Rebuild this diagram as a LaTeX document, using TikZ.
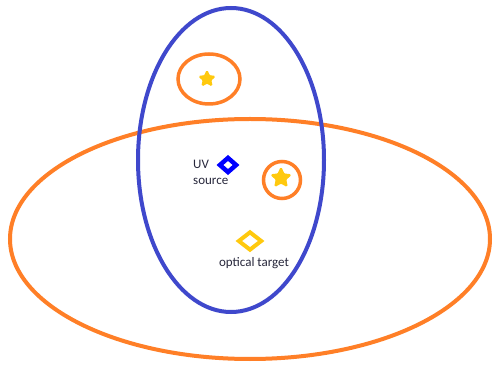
\documentclass[tikz,border=0pt]{standalone}
\usepackage{fontspec}
\setmainfont{Carlito}
\usetikzlibrary{shapes.geometric}
\definecolor{porange}{RGB}{255,127,39}
\definecolor{pblue}{RGB}{63,72,204}
\definecolor{pgold}{RGB}{255,201,14}
\definecolor{dblue}{RGB}{0,0,255}
\definecolor{ptext}{RGB}{40,40,60}
\tikzset{
  ring/.style={draw=porange, line width=4pt},
  smallring/.style={draw=porange, line width=3.5pt},
  starmark/.style={star, star points=5, star point ratio=2.1, fill=pgold, draw=pgold, line width=1.5pt, rounded corners=1pt, minimum size=15pt, inner sep=0pt},
  diamondmark/.style={diamond, draw=#1, line width=4pt, fill=white, inner sep=0pt},
  lbl/.style={font=\fontsize{13}{16}\selectfont, text=ptext, inner sep=0pt}
}
\begin{document}
\begin{tikzpicture}[x=1pt,y=-1pt]
\useasboundingbox (0,0) rectangle (493,374);
\fill[white] (0,0) rectangle (493,374);
% big orange ellipse
\draw[ring] (250,239) ellipse [x radius=240, y radius=120];
% blue ellipse
\draw[draw=pblue, line width=4pt] (231,160) ellipse [x radius=93, y radius=152];
% small ellipse top
\draw[smallring] (209,79) ellipse [x radius=31, y radius=25];
\node[starmark, minimum size=16pt] (s1) at (207,79) {};
% small circle
\draw[smallring] (282,180) circle [radius=18.5];
\node[starmark, minimum size=20pt] (s2) at (281,178) {};
% UV source
\node[diamondmark=dblue, line width=4.5pt, minimum width=18pt, minimum height=16pt] (uv) at (228,165) {};
\node[lbl, anchor=north west, align=left] (uvl) at (193,160) {UV\\source};
% optical target
\node[diamondmark=pgold, minimum width=24pt, minimum height=19pt] (ot) at (250,241) {};
\node[lbl] (otl) at (254,263) {optical target};
\end{tikzpicture}
\end{document}
